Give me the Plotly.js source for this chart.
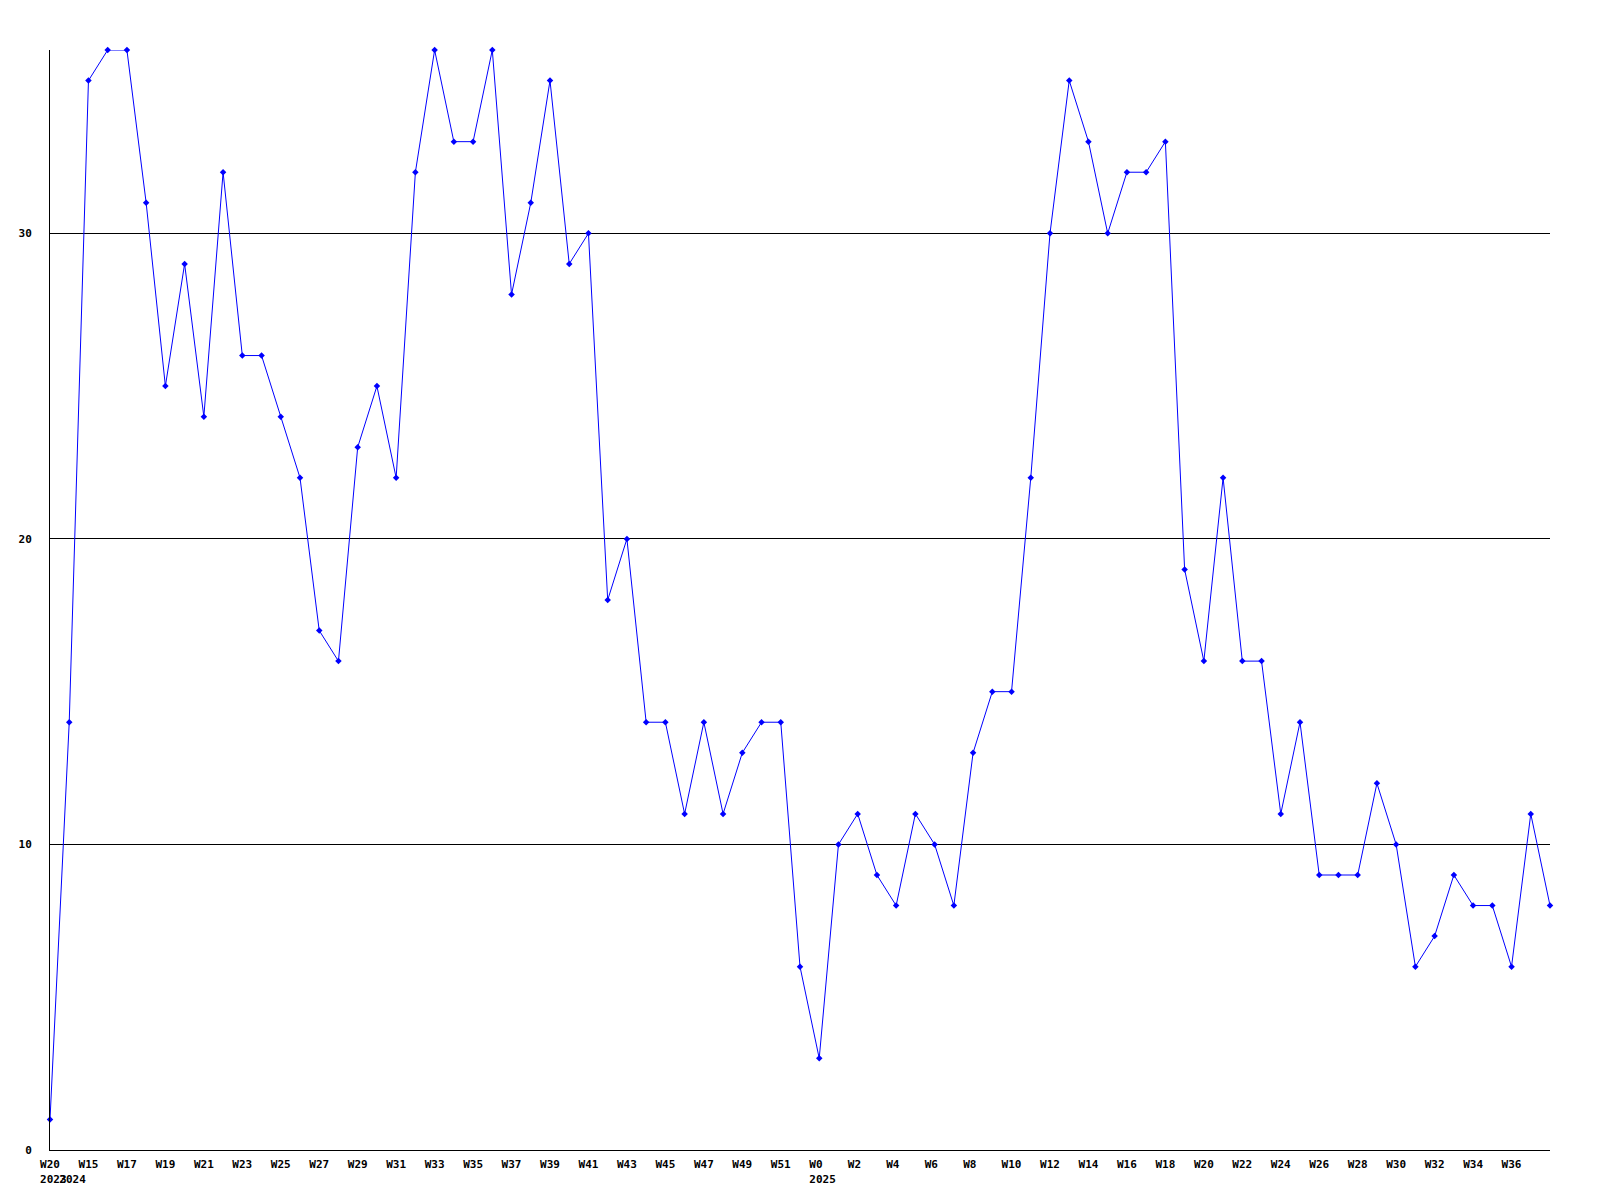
<!DOCTYPE html>
<html>
<head>
<meta charset="utf-8">
<script src="https://cdn.plot.ly/plotly-3.0.1.min.js"></script>
<style>html,body{margin:0;padding:0;background:#fff;}</style>
</head>
<body>
<div id="chart" style="width:1600px;height:1200px;"></div>
<script>
// Week labels for each point (2023 W20, then 2024 W14..W52, then 2025 W0..W38)
const weeks = ["W20",
  "W14","W15","W16","W17","W18","W19","W20","W21","W22","W23","W24","W25","W26","W27","W28","W29","W30","W31","W32","W33",
  "W34","W35","W36","W37","W38","W39","W40","W41","W42","W43","W44","W45","W46","W47","W48","W49","W50","W51","W52",
  "W0","W1","W2","W3","W4","W5","W6","W7","W8","W9","W10","W11","W12","W13","W14","W15","W16","W17","W18","W19","W20",
  "W21","W22","W23","W24","W25","W26","W27","W28","W29","W30","W31","W32","W33","W34","W35","W36","W37","W38"];
const years = ["2023",
  "2024","","","","","","","","","","","","","","","","","","","",
  "","","","","","","","","","","","","","","","","","","",
  "2025","","","","","","","","","","","","","","","","","","","",
  "","","","","","","","","","","","","","","","","",""];
const values = [1,
  14,35,36,36,31,25,29,24,32,26,26,24,22,17,16,23,25,22,32,36,
  33,33,36,28,31,35,29,30,18,20,14,14,11,14,11,13,14,14,6,
  3,10,11,9,8,11,10,8,13,15,15,22,30,35,33,30,32,32,33,19,16,
  22,16,16,11,14,9,9,9,12,10,6,7,9,8,8,6,11,8];

const NB = "\u00a0";
const idx = values.map((_, i) => i);
const tickvals = [], ticktext = [];
idx.forEach(i => {
  const showWeek = (i % 2 === 0) && i < values.length - 1;
  const yr = years[i];
  if (showWeek || yr) {
    let w = showWeek ? weeks[i] : NB;
    if (showWeek && w.length < 3) w = w + NB.repeat(3 - w.length);
    tickvals.push(i);
    ticktext.push(w + (yr ? "<br>" + NB + yr : ""));
  }
});

const trace = {
  x: idx, y: values, type: "scatter", mode: "lines+markers",
  line: {color: "#0000ff", width: 1},
  marker: {color: "#0000ff", size: 5, symbol: "diamond"},
  cliponaxis: false, hoverinfo: "skip"
};

const font = {family: "DejaVu Sans Mono", size: 11, color: "#000", weight: "bold"};
const layout = {
  width: 1600, height: 1200,
  margin: {l: 50, r: 50, t: 50, b: 50},
  paper_bgcolor: "#fff", plot_bgcolor: "#fff",
  showlegend: false,
  font: font,
  xaxis: {
    range: [0, 78], tickmode: "array", tickvals: tickvals, ticktext: ticktext,
    showgrid: false, zeroline: false, showline: true, linecolor: "#000", linewidth: 1,
    ticks: "", tickfont: font, tickangle: 0, ticklabelstandoff: 4
  },
  yaxis: {
    range: [0, 36], tickmode: "array", tickvals: [0, 10, 20, 30], ticktext: ["0", "10", "20", "30"],
    showgrid: true, gridcolor: "#000", gridwidth: 1, zeroline: false,
    showline: true, linecolor: "#000", linewidth: 1,
    ticks: "", tickfont: font, ticklabelstandoff: 15
  }
};
Plotly.newPlot("chart", [trace], layout, {staticPlot: true, displayModeBar: false});
</script>
</body>
</html>
